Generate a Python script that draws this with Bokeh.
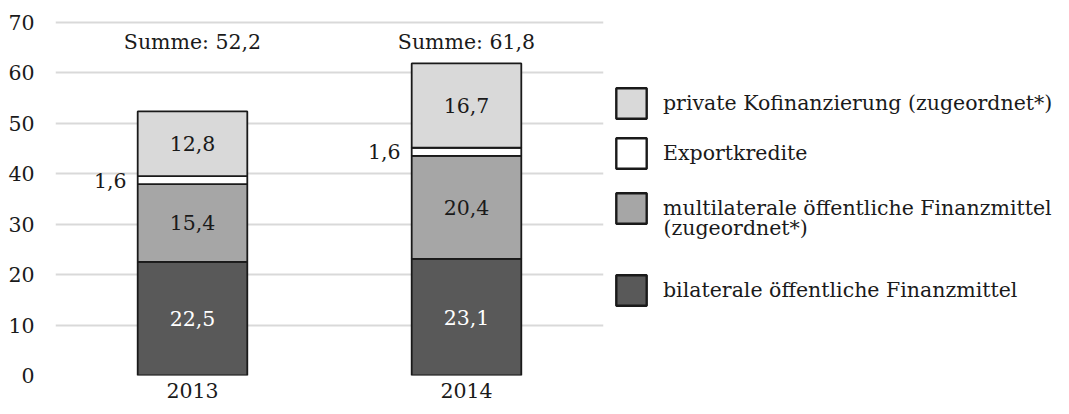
from bokeh.plotting import figure
from bokeh.layouts import row
from bokeh.models import ColumnDataSource, Range1d, FactorRange, Legend, LegendItem, Label
from bokeh.core.properties import value
from bokeh.embed import file_html
from bokeh.resources import INLINE

# ---- data ----
years = ["2013", "2014"]
bilateral = [22.5, 23.1]
multilateral = [15.4, 20.4]
export = [1.6, 1.6]
private = [12.8, 16.7]
sum_labels = ["Summe: 52,2", "Summe: 61,8"]
y_ticks = [0, 10, 20, 30, 40, 50, 60, 70]

series_keys = ["bilateral", "multilateral", "export", "private"]
series_names = [
    "bilaterale öffentliche Finanzmittel",
    "multilaterale öffentliche Finanzmittel",
    "Exportkredite",
    "private Kofinanzierung (zugeordnet*)",
]
multilateral_name_line2 = "(zugeordnet*)"
series_colors = ["#595959", "#a6a6a6", "#ffffff", "#d9d9d9"]
label_colors = ["#ffffff", "#1a1a1a", "#1a1a1a", "#1a1a1a"]

FONT = "DejaVu Serif"
SUM_LABEL_Y = 66
TXT = "#1a1a1a"
TOP, FRAME_H, BOTTOM = 20, 355, 31

def fmt(v):
    return f"{v:.1f}".replace(".", ",")

data = dict(year=years, bilateral=bilateral, multilateral=multilateral,
            export=export, private=private)
src = ColumnDataSource(data)

p = figure(x_range=FactorRange(factors=years), y_range=Range1d(0, 70.3),
           frame_width=548, frame_height=FRAME_H, output_backend="svg", toolbar_location=None,
           min_border_left=55, min_border_right=10, min_border_top=TOP,
           min_border_bottom=BOTTOM)
p.outline_line_color = None
p.background_fill_color = "white"

renderers = p.vbar_stack(series_keys, x="year", width=0.4, source=src,
                         color=series_colors, line_color=TXT, line_width=1.8)

# segment labels
series_vals = [bilateral, multilateral, export, private]
base = [0.0] * len(years)
for k, vals in enumerate(series_vals):
    mids = [b + v / 2 for b, v in zip(base, vals)]
    base = [b + v for b, v in zip(base, vals)]
    lsrc = ColumnDataSource(dict(year=years, y=mids, t=[fmt(v) for v in vals]))
    if series_keys[k] == "export":
        p.text(x="year", y="y", text="t", source=lsrc, text_font=value(FONT),
               text_font_size="20.5px", text_align="right", text_baseline="middle",
               text_color=label_colors[k], x_offset=-66)
    else:
        p.text(x="year", y="y", text="t", source=lsrc, text_font=value(FONT),
               text_font_size="20.5px", text_align="center", text_baseline="middle",
               text_color=label_colors[k])

ssrc = ColumnDataSource(dict(year=years, y=[SUM_LABEL_Y] * len(years), t=sum_labels))
p.text(x="year", y="y", text="t", source=ssrc, text_font=value(FONT),
       text_font_size="20.5px", text_align="center", text_baseline="middle",
       text_color=TXT)

# axes
for ax in (p.xaxis, p.yaxis):
    ax.axis_line_color = None
    ax.major_tick_line_color = None
    ax.minor_tick_line_color = None
    ax.major_tick_out = 0
    ax.major_tick_in = 0
    ax.major_label_text_font = FONT
    ax.major_label_text_font_size = "20.5px"
    ax.major_label_text_color = TXT
p.yaxis.ticker = y_ticks
p.yaxis.major_label_standoff = 21
p.xaxis.major_label_standoff = 7
p.xgrid.grid_line_color = None
p.ygrid.grid_line_color = "#d9d9d9"
p.ygrid.grid_line_width = 2

# ---- legend panel ----
FRAME_BOTTOM = TOP + FRAME_H   # screen px from top of the legend frame's bottom
GLYPH = 38
leg = figure(width=445, frame_height=FRAME_H, output_backend="svg", toolbar_location=None,
             x_axis_location=None, y_axis_location=None, min_border=0,
             min_border_top=TOP, min_border_bottom=BOTTOM,
             x_range=Range1d(0, 1), y_range=Range1d(0, 1))
leg.outline_line_color = None
leg.grid.visible = False

# top positions of legend squares (screen px from top)
legend_tops = {3: 88, 2: 138, 1: 193, 0: 275}
for i in [3, 2, 1, 0]:
    r = leg.vbar(x=[0.5], top=[0.5], width=0.1, fill_color=series_colors[i],
                 line_color=TXT, line_width=2.4, visible=False)
    lg = Legend(items=[LegendItem(label=series_names[i], renderers=[r])],
                location=(-1, FRAME_BOTTOM - legend_tops[i] - 34),
                glyph_width=GLYPH, glyph_height=GLYPH,
                label_text_font=FONT, label_text_font_size="20.5px", label_standoff=13,
                padding=0, margin=0, border_line_color=None, background_fill_alpha=0,
                inactive_fill_alpha=0, click_policy="none",
                label_text_color=TXT, label_text_baseline="middle")
    leg.add_layout(lg)

leg.add_layout(Label(x=50, y=FRAME_BOTTOM - 227, x_units="screen", y_units="screen",
                     text=multilateral_name_line2, text_font=FONT, text_font_size="20.5px",
                     text_color=TXT, text_baseline="middle"))

layout = row(p, leg)
open("out.html", "w").write(file_html(layout, INLINE))
